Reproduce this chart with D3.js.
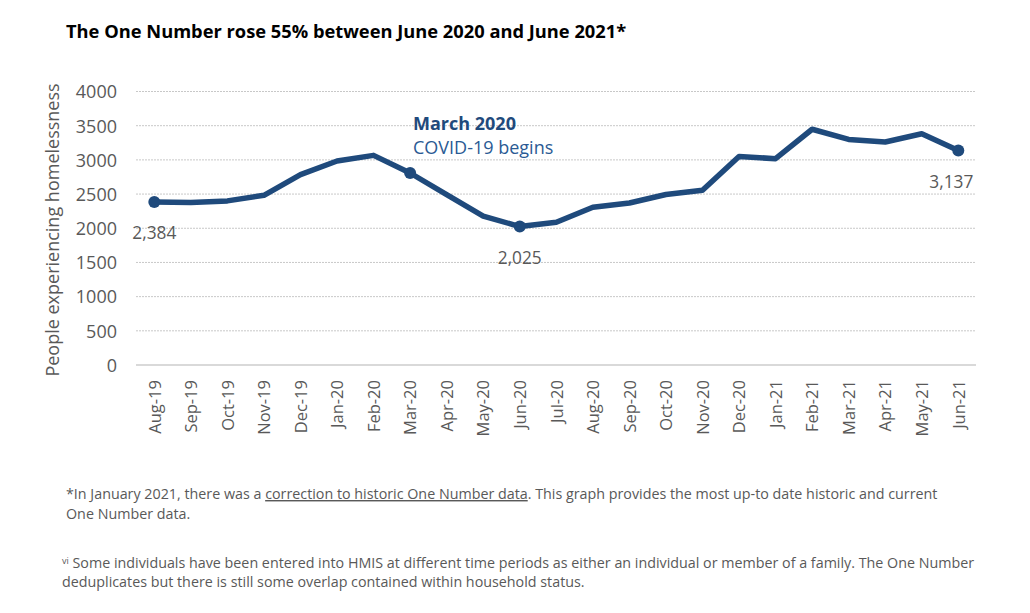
<!DOCTYPE html>
<html><head><meta charset="utf-8">
<script src="https://cdn.jsdelivr.net/npm/d3@7"></script>
<style>
html,body{margin:0;padding:0;background:#fff;}
svg{display:block;font-family:"Open Sans",sans-serif;}
</style></head>
<body><svg id="c" width="1030" height="613"></svg>
<script>
const months = ["Aug-19","Sep-19","Oct-19","Nov-19","Dec-19","Jan-20","Feb-20","Mar-20","Apr-20","May-20","Jun-20","Jul-20","Aug-20","Sep-20","Oct-20","Nov-20","Dec-20","Jan-21","Feb-21","Mar-21","Apr-21","May-21","Jun-21"];
const values = [2384,2378,2400,2482,2784,2983,3066,2808,2493,2178,2025,2088,2308,2370,2494,2555,3050,3017,3448,3299,3262,3382,3137];
const yTicks = [0,500,1000,1500,2000,2500,3000,3500,4000];
const markedMonths = ["Aug-19","Mar-20","Jun-20","Jun-21"];
const labelledMonths = ["Aug-19","Jun-20","Jun-21"];

const svg = d3.select("#c");
const x = d3.scalePoint().domain(months).range([154.3, 958.3]);
const y = d3.scaleLinear().domain([0,4000]).range([365, 91.5]);
const blue = "#1f4a7c";
const grey = "#595959";

// title
svg.append("text").attr("x",66).attr("y",38).attr("font-size",18.3).attr("font-weight",700)
  .attr("fill","#000").text("The One Number rose 55% between June 2020 and June 2021*");

// gridlines
svg.append("g").selectAll("line").data(yTicks.filter(d=>d>0)).join("line")
  .attr("x1",136).attr("x2",976).attr("y1",d=>y(d)).attr("y2",d=>y(d))
  .attr("stroke","#c8c8c8").attr("stroke-width",1).attr("stroke-dasharray","2,1");
svg.append("line").attr("x1",136).attr("x2",976).attr("y1",y(0)).attr("y2",y(0))
  .attr("stroke","#d9d9d9").attr("stroke-width",2);

// y axis
const yAxis = d3.axisLeft(y).tickValues(yTicks).tickFormat(d3.format("d")).tickSize(0).tickPadding(0);
const gy = svg.append("g").attr("transform","translate(117,0)").call(yAxis);
gy.select(".domain").remove();
gy.selectAll("text").attr("font-size",18).attr("fill",grey).attr("font-family","Open Sans").attr("dy","0.35em");

// y title
svg.append("text").attr("transform","translate(53,230) rotate(-90)").attr("text-anchor","middle").attr("dy","0.35em")
  .attr("font-size",18).attr("fill",grey).text("People experiencing homelessness");

// x axis
const xAxis = d3.axisBottom(x).tickSize(0).tickPadding(0);
const gx = svg.append("g").attr("transform","translate(0,380)").call(xAxis);
gx.select(".domain").remove();
gx.selectAll("text").attr("font-size",16.5).attr("fill",grey).attr("font-family","Open Sans")
  .attr("text-anchor","end").attr("transform","rotate(-90)").attr("x",0).attr("y",0).attr("dy","0.35em").attr("dx",0);

// line
const line = d3.line().x((d,i)=>x(months[i])).y(d=>y(d));
svg.append("path").datum(values).attr("d",line).attr("fill","none")
  .attr("stroke",blue).attr("stroke-width",5.5).attr("stroke-linejoin","round");

// markers
svg.append("g").selectAll("circle").data(markedMonths).join("circle")
  .attr("cx",d=>x(d)).attr("cy",d=>y(values[months.indexOf(d)])).attr("r",6).attr("fill",blue);

// data labels (last one right-aligned so it stays inside the plot)
const lastMonth = months[months.length-1];
svg.append("g").selectAll("text").data(labelledMonths).join("text")
  .attr("x",d=>d===lastMonth ? x(d)+15 : x(d))
  .attr("y",d=>y(values[months.indexOf(d)])+37)
  .attr("text-anchor",d=>d===lastMonth ? "end" : "middle")
  .attr("font-size",17.3).attr("fill",grey)
  .text(d=>d3.format(",")(values[months.indexOf(d)]));

// annotation
svg.append("text").attr("x",413).attr("y",130).attr("font-size",18).attr("font-weight",700).attr("fill",blue).text("March 2020");
svg.append("text").attr("x",413).attr("y",154).attr("font-size",18).attr("fill","#2a5a94").text("COVID-19 begins");

// footnotes
const fn = svg.append("g").attr("font-size",14.3).attr("fill",grey);
const t1 = fn.append("text").attr("x",66).attr("y",499);
t1.append("tspan").text("*In January 2021, there was a ");
t1.append("tspan").attr("text-decoration","underline").text("correction to historic One Number data");
t1.append("tspan").text(". This graph provides the most up-to date historic and current");
fn.append("text").attr("x",66).attr("y",519).text("One Number data.");
const t3 = fn.append("text").attr("x",62).attr("y",568);
t3.append("tspan").attr("font-size",9).attr("dy",-4).text("vi");
t3.append("tspan").attr("dy",4).text(" Some individuals have been entered into HMIS at different time periods as either an individual or member of a family. The One Number");
fn.append("text").attr("x",62).attr("y",587).text("deduplicates but there is still some overlap contained within household status.");
</script></body></html>
